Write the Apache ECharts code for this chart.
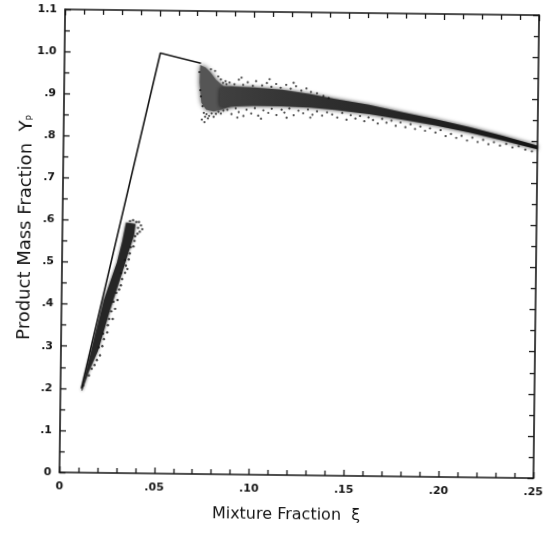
<!DOCTYPE html>
<html>
<head>
<meta charset="utf-8">
<script src="https://cdn.jsdelivr.net/npm/echarts@6/dist/echarts.min.js"></script>
<style>
  html, body { margin: 0; padding: 0; background: #fff; }
  /* the scanned figure sits slightly rotated on the page */
  #chart { width: 556px; height: 533px; transform: rotate(0.7deg); transform-origin: 50% 50%; }
</style>
</head>
<body>
<div id="chart"></div>
<script>
// 平衡线 (equilibrium line, visible part)
var limitLine = [[0.011, 0.200], [0.0505, 0.999], [0.072, 0.976]];

// 下方散点带的密集区域轮廓
var lowerDense = [
  [0.0110, 0.195], [0.0160, 0.290], [0.0222, 0.410], [0.0290, 0.500], [0.0316, 0.550], [0.0335, 0.595],
  [0.0385, 0.592], [0.0378, 0.565], [0.0350, 0.525], [0.0300, 0.450], [0.0255, 0.385], [0.0195, 0.290],
  [0.0148, 0.240], [0.0115, 0.195]
];

// 下方散点带边缘的稀疏点
var lowerPoints = [
  [0.0119, 0.207], [0.0149, 0.231], [0.0163, 0.247], [0.0178, 0.256], [0.0190, 0.268], [0.0206, 0.279],
  [0.0199, 0.298], [0.0218, 0.301], [0.0226, 0.318], [0.0221, 0.331], [0.0243, 0.334], [0.0246, 0.351],
  [0.0252, 0.366], [0.0271, 0.366], [0.0263, 0.384], [0.0283, 0.390], [0.0274, 0.407], [0.0295, 0.411],
  [0.0288, 0.428], [0.0303, 0.436], [0.0312, 0.446], [0.0318, 0.461], [0.0312, 0.475], [0.0333, 0.476],
  [0.0337, 0.493], [0.0331, 0.506], [0.0352, 0.508], [0.0357, 0.522], [0.0362, 0.537], [0.0376, 0.539],
  [0.0381, 0.552], [0.0384, 0.563], [0.0396, 0.569], [0.0399, 0.583], [0.0408, 0.574], [0.0414, 0.589],
  [0.0389, 0.597], [0.0372, 0.601], [0.0356, 0.599], [0.0421, 0.580], [0.0403, 0.597], [0.0345, 0.485]
];

// 上方左侧点团的轮廓
var upperCluster = [
  [0.0716, 0.972], [0.0745, 0.966], [0.0770, 0.955], [0.0800, 0.937], [0.0840, 0.922], [0.0890, 0.918],
  [0.0890, 0.876], [0.0830, 0.866], [0.0790, 0.862], [0.0750, 0.866], [0.0725, 0.882], [0.0714, 0.930]
];

// 上方散点带与右侧脊线的轮廓
var upperDense = [
  [0.0820, 0.917], [0.0880, 0.922], [0.1000, 0.920], [0.1150, 0.915], [0.1300, 0.906], [0.1430, 0.895],
  [0.1610, 0.882], [0.1780, 0.866], [0.1960, 0.850], [0.2140, 0.832], [0.2310, 0.813], [0.2500, 0.790],
  [0.2500, 0.781], [0.2310, 0.802], [0.2140, 0.819], [0.1960, 0.835], [0.1780, 0.848], [0.1610, 0.860],
  [0.1430, 0.869], [0.1300, 0.874], [0.1150, 0.876], [0.1000, 0.876], [0.0880, 0.874], [0.0820, 0.874]
];

// 上方散点带边缘的稀疏点
var upperPoints = [
  [0.0712, 0.955], [0.0718, 0.912], [0.0722, 0.897], [0.0731, 0.874], [0.0738, 0.858], [0.0745, 0.849],
  [0.0728, 0.842], [0.0752, 0.855], [0.0766, 0.851], [0.0779, 0.857], [0.0790, 0.849], [0.0802, 0.856],
  [0.0815, 0.861], [0.0828, 0.857], [0.0841, 0.864], [0.0812, 0.945], [0.0826, 0.938], [0.0838, 0.930],
  [0.0851, 0.934], [0.0795, 0.958], [0.0773, 0.962], [0.0856, 0.927], [0.0760, 0.845], [0.0742, 0.836],
  [0.0872, 0.931], [0.0898, 0.927], [0.0921, 0.938], [0.0944, 0.926], [0.0968, 0.932], [0.0995, 0.924],
  [0.1012, 0.935], [0.1044, 0.925], [0.1069, 0.931], [0.1093, 0.922], [0.1118, 0.929], [0.1142, 0.920],
  [0.1171, 0.927], [0.1195, 0.918], [0.1223, 0.924], [0.1251, 0.914], [0.1278, 0.919], [0.1302, 0.911],
  [0.1334, 0.908], [0.1368, 0.902], [0.1396, 0.897], [0.0935, 0.943], [0.1083, 0.940], [0.1210, 0.932],
  [0.0862, 0.866], [0.0884, 0.856], [0.0906, 0.870], [0.0922, 0.861], [0.0947, 0.852], [0.0963, 0.867],
  [0.0988, 0.858], [0.1007, 0.871], [0.1025, 0.853], [0.1052, 0.866], [0.1078, 0.860], [0.1096, 0.870],
  [0.1121, 0.855], [0.1148, 0.868], [0.1163, 0.861], [0.1189, 0.871], [0.1212, 0.855], [0.1237, 0.866],
  [0.1262, 0.860], [0.1287, 0.869], [0.1311, 0.857], [0.1335, 0.865], [0.1362, 0.855], [0.1388, 0.863],
  [0.0915, 0.848], [0.1040, 0.846], [0.1175, 0.849], [0.1300, 0.850],
  [0.1415, 0.858], [0.1442, 0.851], [0.1468, 0.862], [0.1491, 0.846], [0.1513, 0.857], [0.1538, 0.849],
  [0.1562, 0.855], [0.1585, 0.843], [0.1607, 0.852], [0.1631, 0.846], [0.1656, 0.838], [0.1679, 0.849],
  [0.1702, 0.840], [0.1728, 0.845], [0.1751, 0.833], [0.1776, 0.841], [0.1802, 0.830], [0.1829, 0.837],
  [0.1853, 0.826], [0.1881, 0.832], [0.1906, 0.822], [0.1932, 0.828], [0.1961, 0.818], [0.1988, 0.824],
  [0.2015, 0.810], [0.2043, 0.815], [0.2071, 0.806], [0.2099, 0.811], [0.2128, 0.800], [0.2156, 0.807],
  [0.2184, 0.797], [0.2213, 0.802], [0.2241, 0.792], [0.2270, 0.797], [0.2302, 0.789], [0.2335, 0.793],
  [0.2368, 0.785], [0.2401, 0.788], [0.2436, 0.780], [0.2471, 0.776]
];

var ink = '#151515';
var font = 'DejaVu Sans';

function xLabel(v) {
    if (v === 0) return '0';
    return v.toFixed(2).slice(1);
}
function yLabel(v) {
    if (v === 0) return '0';
    if (v >= 0.999) return v.toFixed(1);
    return v.toFixed(1).slice(1);
}

// 把轮廓数组画成多边形, 边缘模糊一点像散点云
function densePolygon(points, fill, blur) {
    return {
        type: 'custom',
        data: points,
        silent: true,
        renderItem: function (params, api) {
            if (params.dataIndex !== 0) return null;
            var pts = points.map(function (p) { return api.coord(p); });
            return {
                type: 'polygon',
                shape: { points: pts },
                style: { fill: fill, stroke: null, shadowBlur: blur, shadowColor: 'rgba(20,20,20,0.85)' }
            };
        }
    };
}

var bandFill = new echarts.graphic.LinearGradient(0, 0, 1, 0, [
    { offset: 0, color: '#404040' },
    { offset: 0.35, color: '#2e2e2e' },
    { offset: 1, color: '#141414' }
]);

var frameAxis = {
    axisLine: { show: true, onZero: false, lineStyle: { color: ink, width: 1.6 } },
    axisTick: { show: true, inside: true, length: 6, lineStyle: { color: ink, width: 1.3 } },
    minorTick: { show: true, length: 5, lineStyle: { color: ink, width: 1.3 } },
    splitLine: { show: false },
    minorSplitLine: { show: false }
};

var myChart = echarts.init(document.getElementById('chart'));

var option = {
    animation: false,
    backgroundColor: '#fff',
    grid: { left: 62, right: 20, top: 12, bottom: 58 },
    xAxis: [
        Object.assign({}, frameAxis, {
            type: 'value', min: 0, max: 0.25, interval: 0.05, position: 'bottom',
            minorTick: Object.assign({}, frameAxis.minorTick, { splitNumber: 5 }),
            axisLabel: { formatter: xLabel, color: ink, fontFamily: font, fontWeight: 'bold', fontSize: 11, margin: 9 },
            name: 'Mixture Fraction  ξ', nameLocation: 'middle', nameGap: 32, nameMoveOverlap: false,
            nameTextStyle: { color: ink, fontFamily: font, fontSize: 16, padding: [0, 20, 0, 0] }
        }),
        Object.assign({}, frameAxis, {
            type: 'value', min: 0, max: 0.25, interval: 0.05, position: 'top',
            minorTick: Object.assign({}, frameAxis.minorTick, { splitNumber: 5 }),
            axisLabel: { show: false }
        })
    ],
    yAxis: [
        Object.assign({}, frameAxis, {
            type: 'value', min: 0, max: 1.1, interval: 0.1, position: 'left',
            minorTick: Object.assign({}, frameAxis.minorTick, { splitNumber: 2 }),
            axisLabel: { formatter: yLabel, color: ink, fontFamily: font, fontWeight: 'bold', fontSize: 11, margin: 8 },
            name: 'Product Mass Fraction  Y{p|P}', nameLocation: 'middle', nameGap: 28, nameMoveOverlap: false,
            nameTextStyle: {
                color: ink, fontFamily: font, fontSize: 18, padding: [0, 0, 0, 26],
                rich: { p: { fontFamily: font, fontSize: 9, color: ink, padding: [8, 0, 0, 0] } }
            }
        }),
        Object.assign({}, frameAxis, {
            type: 'value', min: 0, max: 1.1, interval: 0.1, position: 'right',
            minorTick: Object.assign({}, frameAxis.minorTick, { splitNumber: 2 }),
            axisLabel: { show: false }
        })
    ],
    series: [
        densePolygon(lowerDense, '#262626', 3),
        densePolygon(upperCluster, '#555555', 5),
        densePolygon(upperDense, bandFill, 4),
        {
            name: 'limit', type: 'line', data: limitLine, symbol: 'none',
            lineStyle: { color: ink, width: 1.6 }, silent: true
        },
        {
            name: 'lower', type: 'scatter', data: lowerPoints, symbolSize: 2.4,
            itemStyle: { color: ink }, silent: true
        },
        {
            name: 'upper', type: 'scatter', data: upperPoints, symbolSize: 2.2,
            itemStyle: { color: ink }, silent: true
        }
    ]
};

myChart.setOption(option);
</script>
</body>
</html>
